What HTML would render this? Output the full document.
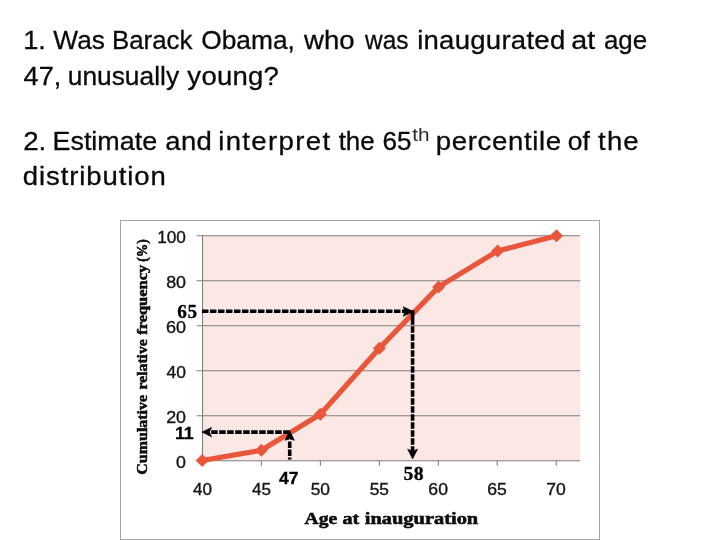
<!DOCTYPE html>
<html><head><meta charset="utf-8">
<style>
html,body{margin:0;padding:0;background:#fff;}
body{width:720px;height:540px;overflow:hidden;position:relative;font-family:"Liberation Sans",sans-serif;}
svg{will-change:transform;position:absolute;left:0;top:0;display:block;}
</style></head><body>
<svg width="720" height="540" viewBox="0 0 720 540">
<rect x="0" y="0" width="720" height="540" fill="#ffffff"/>
<g fill="#0a0a0a" stroke="#0a0a0a" stroke-width="0.3" style='font-family:"Liberation Sans",sans-serif;font-size:26px;'>
<text transform="translate(23.21,48.8) scale(1.0475,1.0000)">1.</text>
<text transform="translate(53.37,48.8) scale(1.0100,1.0000)">Was</text>
<text transform="translate(111.88,48.8) scale(0.9968,1.0000)">Barack</text>
<text transform="translate(201.23,48.8) scale(1.0127,1.0000)">Obama,</text>
<text transform="translate(304.00,48.8) scale(1.0600,1.0000)" letter-spacing="0.037">who</text>
<text transform="translate(365.00,48.8) scale(0.9392,1.0000)">was</text>
<text transform="translate(417.14,48.8) scale(1.0600,1.0000)" letter-spacing="0.245">inaugurated</text>
<text transform="translate(571.26,48.8) scale(1.1043,1.0000)">at</text>
<text transform="translate(603.88,48.8) scale(0.9970,1.0000)">age</text>
<text transform="translate(23.55,84.8) scale(1.0445,1.0000)">47,</text>
<text transform="translate(67.73,84.8) scale(1.0139,1.0000)">unusually</text>
<text transform="translate(187.37,84.8) scale(1.0600,1.0000)" letter-spacing="0.225">young?</text>
<text transform="translate(23.17,149.6) scale(1.0648,1.0000)">2.</text>
<text transform="translate(52.50,149.6) scale(1.0350,1.0000)">Estimate</text>
<text transform="translate(165.31,149.6) scale(1.0600,1.0000)" letter-spacing="0.269">and</text>
<text transform="translate(218.15,149.6) scale(1.0600,1.0000)" letter-spacing="1.284">interpret</text>
<text transform="translate(338.63,149.6) scale(0.9964,1.0000)">the</text>
<text transform="translate(382.43,149.6) scale(1.0000,1.0000)">65</text>
<text transform="translate(435.78,149.6) scale(1.0600,1.0000)" letter-spacing="0.618">percentile</text>
<text transform="translate(567.85,149.6) scale(1.0182,1.0000)">of</text>
<text transform="translate(598.10,149.6) scale(1.0600,1.0000)" letter-spacing="1.084">the</text>
<text transform="translate(22.81,185.4) scale(1.0600,1.0000)" letter-spacing="0.836">distribution</text>
</g>
<g fill="#2a2a2a" style='font-family:"Liberation Sans",sans-serif;font-size:17.5px;'>
<text transform="translate(412.20,140.8) scale(1.1849,1.0000)">th</text>
</g>
<defs><filter id="b" x="-5%" y="-5%" width="110%" height="110%"><feGaussianBlur stdDeviation="0.45"/></filter></defs>
<g filter="url(#b)">
<rect x="120.5" y="220.5" width="479" height="319" fill="#ffffff" stroke="#a4a4a4" stroke-width="1"/>
<rect x="202.5" y="235.7" width="377.7" height="225" fill="#fbe7e4"/>
<g stroke="#857e7d" stroke-width="1.1">
<line x1="196.6" y1="235.7" x2="580.2" y2="235.7"/><line x1="196.6" y1="280.7" x2="580.2" y2="280.7"/><line x1="196.6" y1="325.7" x2="580.2" y2="325.7"/><line x1="196.6" y1="370.7" x2="580.2" y2="370.7"/><line x1="196.6" y1="415.7" x2="580.2" y2="415.7"/><line x1="196.6" y1="460.7" x2="580.2" y2="460.7"/>
<line x1="202.5" y1="235.2" x2="202.5" y2="465.8"/>
<line x1="261.4" y1="460.7" x2="261.4" y2="465.8"/><line x1="320.4" y1="460.7" x2="320.4" y2="465.8"/><line x1="379.4" y1="460.7" x2="379.4" y2="465.8"/><line x1="438.3" y1="460.7" x2="438.3" y2="465.8"/><line x1="497.2" y1="460.7" x2="497.2" y2="465.8"/><line x1="556.2" y1="460.7" x2="556.2" y2="465.8"/>
</g>
<polyline points="202.2,460.5 261.4,450.2 320.4,414.2 379.4,348.2 438.6,286.9 497.6,251.0 556.5,235.8" fill="none" stroke="#e8563a" stroke-width="5.2" stroke-linejoin="round" stroke-linecap="round"/>
<g fill="#e8563a"><path d="M202.2 454.0l6.5 6.5-6.5 6.5-6.5-6.5z"/><path d="M261.4 443.7l6.5 6.5-6.5 6.5-6.5-6.5z"/><path d="M320.4 407.7l6.5 6.5-6.5 6.5-6.5-6.5z"/><path d="M379.4 341.7l6.5 6.5-6.5 6.5-6.5-6.5z"/><path d="M438.6 280.4l6.5 6.5-6.5 6.5-6.5-6.5z"/><path d="M497.6 244.5l6.5 6.5-6.5 6.5-6.5-6.5z"/><path d="M556.5 229.3l6.5 6.5-6.5 6.5-6.5-6.5z"/></g>
<g fill="#141414" stroke="#141414" stroke-width="0.35" style='font-family:"Liberation Sans",sans-serif;font-size:16px;'>
<text transform="translate(157.15,243.2) scale(1.0774,1.0000)">100</text>
<text transform="translate(166.16,288.2) scale(1.1176,1.0000)">80</text>
<text transform="translate(166.01,333.2) scale(1.1262,1.0000)">60</text>
<text transform="translate(166.59,378.3) scale(1.0925,1.0000)">40</text>
<text transform="translate(166.16,423.3) scale(1.1176,1.0000)">20</text>
<text transform="translate(176.10,468.3) scale(1.1148,1.0000)">0</text>
<text transform="translate(193.10,494.8) scale(1.0687,1.0000)">40</text>
<text transform="translate(252.05,494.8) scale(1.0687,1.0000)">45</text>
<text transform="translate(310.72,494.8) scale(1.0848,1.0000)">50</text>
<text transform="translate(369.67,494.8) scale(1.0848,1.0000)">55</text>
<text transform="translate(428.34,494.8) scale(1.1015,1.0000)">60</text>
<text transform="translate(487.29,494.8) scale(1.1015,1.0000)">65</text>
<text transform="translate(546.24,494.8) scale(1.1015,1.0000)">70</text>
</g>
<g fill="#0a0a0a" stroke="#0a0a0a" stroke-width="0.55" style='font-family:"Liberation Serif",serif;font-weight:bold;font-size:17px;'>
<text transform="translate(304.56,524.2) scale(1.1495,1.0000)">Age</text>
<text transform="translate(342.41,524.2) scale(1.1817,1.0000)">at</text>
<text transform="translate(364.75,524.2) scale(1.2016,1.0000)">inauguration</text>
</g>
<g fill="#0a0a0a" stroke="#0a0a0a" stroke-width="0.5" style='font-family:"Liberation Serif",serif;font-weight:bold;font-size:14px;'>
<g transform="translate(147,474.2) rotate(-90)"><text transform="translate(-0.45,0) scale(1.1397,1.0000)">Cumulative</text>
<text transform="translate(84.78,0) scale(1.1195,1.0000)">relative</text>
<text transform="translate(139.45,0) scale(1.1722,1.0000)">frequency</text>
<text transform="translate(212.40,0) scale(0.9627,1.0000)">(%)</text></g>
</g>
</g>
<g stroke="#000000" stroke-width="3.6" fill="none" stroke-dasharray="6.5 1.5">
<line x1="202" y1="311.3" x2="406" y2="311.3"/>
<line x1="412.6" y1="310.3" x2="412.6" y2="324.8" stroke-dasharray="none"/>
<line x1="412.6" y1="326.3" x2="412.6" y2="451.5"/>
<line x1="289.7" y1="432.1" x2="209.5" y2="432.1"/>
<line x1="289.7" y1="441.4" x2="289.7" y2="459.4"/>
</g>
<g fill="#000000" stroke="#000000" stroke-width="0.6" stroke-linejoin="round">
<path d="M413.6 311.5L403.2 306.700L405 311.500L403.2 316.300Z"/>
<path d="M412.6 458.900L407.6 449.100L412.6 451.400L417.600 449.100Z"/>
<path d="M201.9 432.100L211.600 427.400L209.400 432.100L211.600 436.800Z"/>
<path d="M289.700 430.800L285 440.300L289.700 439L294.400 440.300Z"/>
</g>
<g fill="#000000" stroke="#000000" stroke-width="0.3" letter-spacing="0.5" style='font-family:"Liberation Serif",serif;font-weight:bold;font-size:18px;'>
<text transform="translate(177.33,317.8) scale(1.0687,1.0583)">65</text>
<text transform="translate(403.38,479.7) scale(1.0947,1.0250)">58</text>
</g>
<g fill="#000000" stroke="#000000" stroke-width="0.25" style='font-family:"Liberation Sans",sans-serif;font-weight:bold;font-size:16px;'>
<text transform="translate(174.88,438.9) scale(1.1161,1.0818)">11</text>
<text transform="translate(279.03,484.4) scale(1.0963,1.0636)">47</text>
</g>
</svg>
</body></html>
